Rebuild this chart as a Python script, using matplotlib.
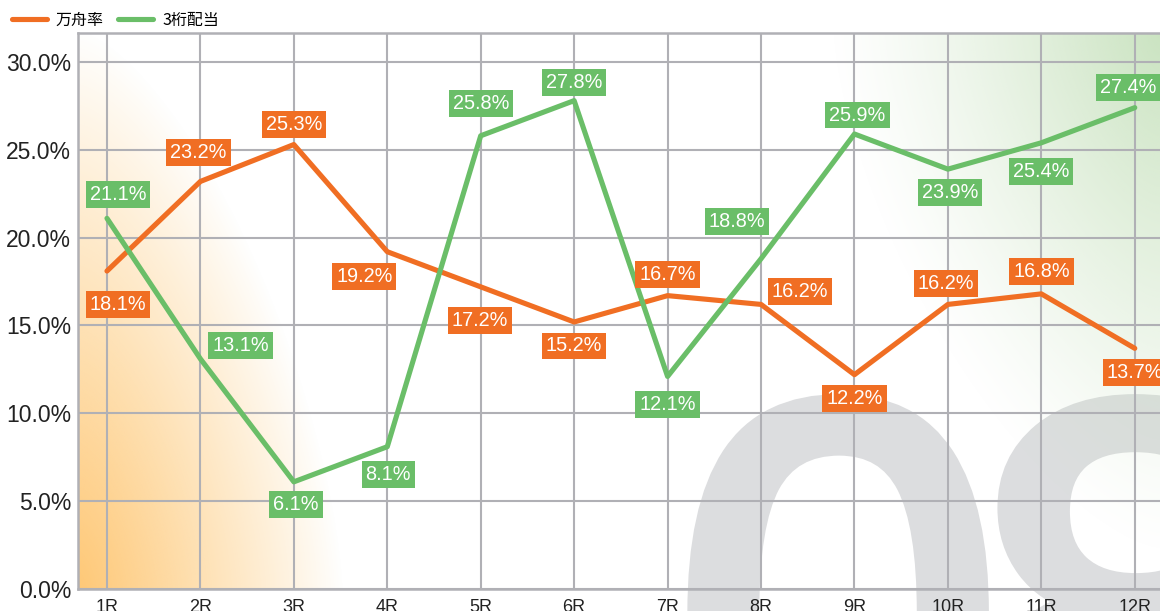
import matplotlib
matplotlib.use('Agg')
import matplotlib.pyplot as plt
import matplotlib.patheffects as pe
import numpy as np
from matplotlib.lines import Line2D

plt.rcParams['font.family'] = ['Liberation Sans', 'Noto Sans CJK JP', 'DejaVu Sans']

races = ['1R', '2R', '3R', '4R', '5R', '6R', '7R', '8R', '9R', '10R', '11R', '12R']
manshu = [18.1, 23.2, 25.3, 19.2, 17.2, 15.2, 16.7, 16.2, 12.2, 16.2, 16.8, 13.7]
sanketa = [21.1, 13.1, 6.1, 8.1, 25.8, 27.8, 12.1, 18.8, 25.9, 23.9, 25.4, 27.4]
series_names = ['万舟率', '3桁配当']
yticks = [0, 5, 10, 15, 20, 25, 30]

ORANGE = '#F06E23'
GREEN = '#6ABE68'
GRID = '#B0B0B5'
WM = '#DCDDDF'

# label offsets in pixels (dx right, dy down)
off_orange = [(11, 33), (-2, -29), (0, -20), (-23, 25), (-1, 34), (0, 24),
              (0, -21), (39, -13), (0, 24), (-2, -21), (0, -22), (0, 24)]
off_green = [(11, -24), (40, -13), (2, 23), (1, 28), (0, -32), (0, -18),
             (0, 28), (-24, -37), (3, -19), (2, 23), (0, 29), (-7, -20)]

W, H = 1160, 611
fig = plt.figure(figsize=(W / 100, H / 100), dpi=100)
fig.patch.set_facecolor('white')

ax_l, ax_b, ax_t = 78, 22, 578
ax = fig.add_axes([ax_l / W, ax_b / H, 1 - ax_l / W, (ax_t - ax_b) / H])
ax.set_facecolor('none')

x = np.arange(len(races))
ax.set_xlim(-0.31, 11.27)
ax.set_ylim(0, 31.65)

# big watermark "08", drawn digit by digit so the spacing is tight
wm_fx = [pe.withStroke(linewidth=14, foreground=WM)]
for ch, xo in [('0', 674), ('8', 972)]:
    ax.text(xo / W, -205 / H, ch, transform=fig.transFigure, fontsize=425,
            color=WM, family='Liberation Sans', ha='left', va='baseline',
            zorder=0.1, clip_on=False, path_effects=wm_fx)

# corner gradients
aw, ah = W - ax_l, ax_t - ax_b
uu, vv = np.meshgrid(np.arange(aw), np.arange(ah))  # vv=0 at top
img = np.zeros((ah, aw, 4))

# orange, lower-left
u = uu / 265.0
v = (ah - vv) / 560.0
r = (u ** 1.5 + v ** 1.5) ** (1 / 1.5)
a_o = np.clip(1 - r, 0, 1) ** 0.95
# green, upper-right
u2 = (aw - uu) / 330.0
v2 = vv / 520.0
r2 = (u2 ** 1.5 + v2 ** 1.5) ** (1 / 1.5)
a_g = np.clip(1 - r2, 0, 1) ** 1.2 * 0.95

col_o = np.array([254, 200, 118]) / 255
col_g = np.array([200, 226, 190]) / 255
alpha = np.clip(a_o + a_g, 0, 1)
rgb = (a_o[..., None] * col_o + a_g[..., None] * col_g) / np.maximum(alpha, 1e-6)[..., None]
img[..., :3] = rgb
img[..., 3] = alpha
ax.imshow(img, extent=[0, 1, 0, 1], transform=ax.transAxes, aspect='auto',
          zorder=0.5, interpolation='bilinear')

# grid and spines
ax.set_xticks(x)
ax.set_xticklabels(races, fontsize=13, color='#222222')
ax.set_yticks(yticks)
ax.set_yticklabels([f'{t:.1f}%' for t in yticks], fontsize=16.5, color='#222222')
ax.tick_params(length=0, pad=5)
ax.tick_params(axis='x', pad=7)
ax.grid(True, color=GRID, linewidth=1.5, zorder=1)
ax.set_axisbelow(True)
for side in ['left', 'top', 'bottom']:
    ax.spines[side].set_color(GRID)
    ax.spines[side].set_linewidth(1.8)
ax.spines['right'].set_visible(False)

ax.plot(x, manshu, color=ORANGE, linewidth=3.7, solid_capstyle='round',
        solid_joinstyle='round', zorder=3)
ax.plot(x, sanketa, color=GREEN, linewidth=3.7, solid_capstyle='round',
        solid_joinstyle='round', zorder=3)

def put_labels(vals, offs, color):
    for i, (val, (dx, dy)) in enumerate(zip(vals, offs)):
        ax.annotate(f'{val:.1f}%', (x[i], val), xytext=(dx, -dy),
                    textcoords='offset pixels', ha='center', va='center',
                    fontsize=14.3, color='white', zorder=5,
                    bbox=dict(boxstyle='square,pad=0.2', fc=color, ec='none'),
                    annotation_clip=False)

put_labels(manshu, off_orange, ORANGE)
put_labels(sanketa, off_green, GREEN)

handles = [Line2D([], [], color=ORANGE, linewidth=3.7, solid_capstyle='round'),
           Line2D([], [], color=GREEN, linewidth=3.7, solid_capstyle='round')]
fig.legend(handles, series_names, loc='upper left', bbox_to_anchor=(0.0, 1.0),
           ncol=2, frameon=False, handlelength=2.2,
           handletextpad=0.55, columnspacing=0.9, borderaxespad=0.35,
           prop={'family': ['Noto Sans CJK JP', 'Liberation Sans'], 'size': 11.5})

fig.savefig('out.png', dpi=100, facecolor='white')
